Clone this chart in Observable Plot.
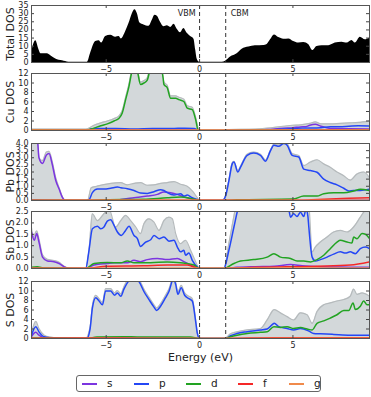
<!DOCTYPE html>
<html><head><meta charset="utf-8">
<script src="https://cdn.jsdelivr.net/npm/d3@7"></script>
<script src="https://cdn.jsdelivr.net/npm/@observablehq/plot@0.6"></script>
<style>
body{margin:0;background:#fff;}
#c{position:relative;width:371px;height:397px;font-family:"DejaVu Sans",sans-serif;overflow:hidden;}
#c svg{position:absolute;left:0;}
.lg{position:absolute;left:76px;top:375px;width:245px;height:17px;border:1px solid #666;border-radius:3px;box-sizing:border-box;}
.li{position:absolute;top:383px;height:2px;width:15px;}
.lt{position:absolute;top:376px;font-size:10.5px;color:#222;line-height:14px;}
</style></head><body><div id="c"></div>
<script>
// ---- data (energy in eV, DOS) ----
const xTicks = [-5, 0, 5];
const edgeNames = ["VBM", "CBM"];
const edgeEnergies = [0, 1.4];
const orbitals = ["s", "p", "d", "f", "g"];
const orbitalColors = ["#7b35e0", "#2447f5", "#22a322", "#f52828", "#f08a4b"];
const panelLabels = ["Total DOS", "Cu DOS", "Pb DOS", "Sb DOS", "S DOS"];
const totalTicks = [0,5,10,15,20,25,30,35];
const cuTicks = [0,2,4,6,8,10,12];
const pbTicks = [0,0.5,1,1.5,2,2.5,3,3.5,4];
const sbTicks = [0,0.5,1,1.5,2,2.5];
const sTicks = [0,2,4,6,8,10,12];

const totalDos = [[-9,5.8],[-8.77,13.3],[-8.6,7.8],[-8.5,5.4],[-8.15,5.4],[-7.97,4.2],[-7.7,2.2],[-7.34,1.0],[-7.0,0.2],[-6.0,0.2],[-5.83,5.8],[-5.56,12.9],[-5.38,13.3],[-5.24,11.9],[-5.03,15.9],[-4.76,16.7],[-4.49,15.5],[-4.31,15.9],[-4.19,14.5],[-3.96,18.9],[-3.78,23.9],[-3.6,30],[-3.46,32.4],[-3.33,30],[-3.19,24.3],[-2.98,23.1],[-2.71,22.3],[-2.53,26],[-2.39,29],[-2.26,28.4],[-2.09,24.7],[-1.91,21.9],[-1.73,22.5],[-1.55,21.5],[-1.37,23.5],[-1.19,20.3],[-1.02,18.3],[-0.84,20.9],[-0.66,17.9],[-0.48,15.9],[-0.3,14.3],[-0.21,7.8],[-0.12,1.8],[0,0.1],[1.21,0.1],[1.39,0.8],[1.66,3.4],[2.01,5.4],[2.28,8.2],[2.64,9.5],[2.99,10.3],[3.44,10.5],[3.62,11.1],[3.8,13.9],[4.01,16.9],[4.24,15.3],[4.51,14.3],[4.78,14.5],[5.04,12.9],[5.31,11.9],[5.58,12.3],[5.85,10.9],[6.06,7.4],[6.29,9.9],[6.56,10.3],[6.92,10.3],[7.27,11.9],[7.63,12.5],[7.9,11.9],[8.16,13.5],[8.34,11.9],[8.61,15.5],[8.88,13.9],[9.1,14.9]];

const cuTotal = [[-9,0.3],[-6.1,0.3],[-5.92,0.5],[-5.65,1.1],[-5.29,1.6],[-4.94,2.0],[-4.58,2.5],[-4.31,3.1],[-4.14,4.2],[-3.96,7.0],[-3.78,9.8],[-3.6,13.5],[-3.45,15],[-3.33,13],[-3.16,10.2],[-2.98,10.5],[-2.8,11.1],[-2.67,13],[-2.4,15],[-2.1,14.5],[-1.91,10.2],[-1.73,9.5],[-1.55,7.3],[-1.28,7.3],[-1.1,7.0],[-0.84,6.6],[-0.66,5.2],[-0.39,4.9],[-0.21,2.8],[-0.05,0.3],[0,0],[1.3,0],[1.4,0.2],[3.0,0.3],[3.62,0.5],[4.5,0.9],[5.0,1.1],[5.4,1.2],[5.9,1.5],[6.2,1.8],[6.5,1.4],[7.0,1.4],[7.5,1.5],[8.0,1.6],[8.5,1.7],[9.1,2.0]];
const cuS = [[-9,0.1],[-6,0.05],[-5.8,0.3],[-5.6,0.4],[-5.3,0.2],[-4,0.1],[-0.2,0.1],[0,0],[1.3,0],[3.0,0.05],[3.62,0.2],[4.5,0.5],[5.0,0.6],[5.4,0.75],[5.7,0.8],[5.9,1.1],[6.2,1.3],[6.5,0.9],[6.8,0.6],[7.2,0.4],[8,0.35],[9.1,0.3]];
const cuP = [[-9,0.05],[-6,0.05],[-5.8,0.3],[-5.5,0.4],[-4.5,0.4],[-3.5,0.3],[-2.5,0.4],[-1.5,0.4],[-0.8,0.5],[-0.3,0.4],[0,0],[1.3,0],[3.5,0.1],[4.5,0.3],[5.5,0.5],[6.5,0.6],[7.0,0.8],[7.5,0.8],[8.0,0.9],[8.5,1.0],[9.1,0.95]];
const cuD = [[-9,0.15],[-6.1,0.1],[-5.92,0.2],[-5.65,0.5],[-5.29,1.0],[-4.94,1.4],[-4.58,2.0],[-4.31,2.6],[-4.14,3.7],[-3.96,6.5],[-3.78,9.3],[-3.6,12.8],[-3.45,14],[-3.33,12.5],[-3.16,9.7],[-2.98,10],[-2.8,10.6],[-2.67,12.5],[-2.4,14],[-2.1,13.5],[-1.95,11],[-1.91,9.7],[-1.73,9.0],[-1.55,6.8],[-1.28,6.8],[-1.1,6.5],[-0.84,6.1],[-0.66,4.7],[-0.39,4.4],[-0.21,2.3],[-0.07,0],[1.3,0],[3,0.1],[9.1,0.15]];
const cuF = [[-9,0.05],[-4,0.08],[0,0.02],[1.3,0.02],[5,0.08],[9.1,0.1]];
const cuG = [[-9,0.1],[9.1,0.1]];

const pbTotal = [[-9,5],[-8.7,4.6],[-8.6,3.0],[-8.41,2.8],[-8.2,3.4],[-8.06,3.45],[-7.9,2.8],[-7.7,1.6],[-7.52,0.9],[-7.34,0.25],[-7.2,0],[-6.0,0],[-5.8,0.9],[-5.5,1.0],[-4.76,1.2],[-4.22,1.26],[-3.87,1.1],[-3.51,1.2],[-3.16,1.26],[-2.8,1.07],[-2.44,1.1],[-2.09,1.2],[-1.73,1.26],[-1.37,1.33],[-1.02,1.14],[-0.66,1.0],[-0.39,0.67],[-0.12,0.2],[0,0],[1.25,0],[1.39,0.35],[1.57,1.45],[1.75,2.65],[1.84,2.75],[2.05,2.1],[2.19,2.4],[2.55,3.25],[2.9,3.4],[3.26,3.25],[3.53,2.85],[3.8,3.55],[3.98,3.95],[4.24,3.9],[4.51,4.1],[4.69,4.0],[4.96,3.3],[5.31,3.15],[5.58,2.45],[5.94,2.7],[6.29,2.86],[6.65,2.57],[7.0,2.33],[7.36,2.0],[7.72,1.74],[8.07,1.43],[8.43,1.86],[8.79,2.0],[9.1,1.6]];
const pbS = [[-9,5],[-8.68,4.2],[-8.6,3.0],[-8.41,2.6],[-8.2,3.2],[-8.06,3.3],[-7.9,2.6],[-7.7,1.4],[-7.52,0.8],[-7.34,0.2],[-7.2,0],[-4.5,0],[-4.22,0.07],[-3.51,0.19],[-2.8,0.31],[-2.26,0.43],[-1.91,0.6],[-1.55,0.55],[-1.19,0.43],[-0.93,0.3],[-0.66,0.19],[-0.3,0.07],[0,0],[9.1,0.02]];
const pbP = [[-9,0.05],[-6.1,0],[-5.92,0.05],[-5.74,0.55],[-5.47,0.8],[-5.12,0.8],[-4.76,0.86],[-4.4,0.95],[-4.22,0.9],[-3.87,0.83],[-3.51,0.7],[-3.16,0.52],[-2.8,0.5],[-2.44,0.62],[-2.09,0.76],[-1.91,0.7],[-1.73,0.55],[-1.37,0.38],[-1.02,0.48],[-0.84,0.31],[-0.66,0.38],[-0.39,0.19],[-0.12,0.07],[0,0],[1.21,0],[1.39,0.3],[1.57,1.38],[1.75,2.57],[1.84,2.7],[2.05,2.0],[2.19,2.33],[2.55,3.17],[2.9,3.33],[3.26,3.17],[3.53,2.76],[3.8,3.5],[3.98,3.88],[4.24,3.8],[4.51,4.0],[4.69,3.88],[4.96,3.17],[5.31,3.05],[5.58,2.2],[5.94,2.1],[6.29,1.98],[6.65,1.5],[7.0,1.26],[7.36,1.1],[7.72,0.86],[7.99,0.67],[8.25,0.7],[8.61,0.7],[9.1,0.79]];
const pbD = [[-9,0.02],[-6,0.02],[-5,0.05],[-3,0.08],[-1.73,0.19],[-1.0,0.24],[-0.5,0.15],[0,0],[1.3,0],[2,0.05],[5,0.1],[5.58,0.31],[6.29,0.31],[6.65,0.48],[7.18,0.55],[7.72,0.55],[8.25,0.67],[8.61,0.79],[9.1,0.7]];
const pbF = [[-9,0.01],[5,0.02],[6,0.05],[7,0.1],[8,0.15],[9.1,0.2]];
const pbG = [[-9,0.01],[9.1,0.02]];

const sbTotal = [[-9,1.8],[-8.9,1.4],[-8.72,1.65],[-8.6,1.3],[-8.41,0.6],[-8.15,0.4],[-7.79,0.35],[-7.52,0.27],[-7.25,0.1],[-7.0,0],[-6.1,0],[-5.92,0.8],[-5.74,2.4],[-5.47,2.1],[-5.12,2.4],[-4.85,2.6],[-4.49,1.82],[-4.22,2.1],[-3.96,2.33],[-3.69,2.1],[-3.42,1.82],[-3.16,1.53],[-2.98,1.96],[-2.71,2.18],[-2.44,2.03],[-2.17,1.67],[-1.91,2.1],[-1.64,2.25],[-1.46,2.18],[-1.28,1.53],[-1.02,1.09],[-0.75,1.24],[-0.48,0.8],[-0.21,0.3],[0,0],[1.3,0],[1.57,1.1],[1.84,2.3],[2.05,3.2],[2.5,4],[3.5,4],[4.5,3.8],[5.5,3.5],[5.85,2.8],[6.03,0.73],[6.2,0.94],[6.47,1.16],[6.83,1.38],[7.18,1.6],[7.54,1.67],[7.9,1.6],[8.25,1.82],[8.61,2.25],[8.88,2.55],[9.1,2.6]];
const sbS = [[-9,1.6],[-8.85,1.24],[-8.72,1.53],[-8.6,1.16],[-8.41,0.5],[-8.15,0.33],[-7.79,0.3],[-7.52,0.22],[-7.25,0.07],[-7.0,0],[-6.1,0],[-5.65,0.15],[-4.94,0.22],[-4.58,0.25],[-3.87,0.25],[-3.51,0.36],[-3.16,0.3],[-2.8,0.39],[-2.26,0.44],[-1.73,0.39],[-1.19,0.44],[-0.84,0.3],[-0.48,0.15],[0,0],[1.3,0],[2,0.05],[3,0.08],[4,0.1],[4.87,0.17],[5.5,0.12],[6.5,0.08],[8,0.06],[9.1,0.05]];
const sbP = [[-9,0.03],[-6.1,0],[-5.92,0.8],[-5.74,1.74],[-5.47,1.85],[-5.29,1.74],[-5.12,1.82],[-4.94,2.08],[-4.76,2.14],[-4.58,1.89],[-4.4,1.6],[-4.19,1.45],[-3.96,1.67],[-3.78,1.85],[-3.51,1.45],[-3.33,1.31],[-3.16,0.97],[-2.89,1.16],[-2.62,1.26],[-2.44,1.45],[-2.17,1.31],[-1.91,1.38],[-1.64,1.2],[-1.37,1.24],[-1.19,0.94],[-1.02,0.73],[-0.84,0.8],[-0.75,0.58],[-0.57,0.68],[-0.39,0.36],[-0.12,0.07],[0,0],[1.3,0],[1.57,0.8],[1.84,1.82],[2.05,2.6],[2.4,3.5],[3.5,3.6],[4.5,3.2],[4.78,2.6],[4.87,2.25],[5.04,2.4],[5.22,2.28],[5.4,2.47],[5.58,2.28],[5.7,2.6],[5.8,2.3],[5.85,1.82],[6.03,0.5],[6.2,0.33],[6.47,0.39],[6.83,0.5],[7.18,0.63],[7.54,0.73],[7.81,0.68],[8.07,0.73],[8.34,0.65],[8.61,0.87],[8.88,0.94],[9.1,0.87]];
const sbD = [[-9,0.05],[-8.7,0.08],[-8.3,0.02],[-6.1,0],[-5.65,0.22],[-4.94,0.26],[-4.22,0.25],[-3.87,0.33],[-3.51,0.25],[-2.62,0.25],[-1.73,0.29],[-1.02,0.25],[-0.3,0.15],[0,0],[1.3,0],[1.84,0.22],[2.19,0.33],[2.9,0.39],[3.62,0.5],[3.98,0.65],[4.33,0.5],[4.87,0.44],[5.22,0.33],[5.58,0.33],[5.94,0.29],[6.29,0.39],[6.65,0.58],[7.0,0.87],[7.36,1.16],[7.54,1.24],[7.9,1.16],[8.16,1.12],[8.25,1.38],[8.43,1.31],[8.7,1.53],[8.88,1.5],[9.1,1.31]];
const sbF = [[-9,0.01],[-6,0.01],[-5,0.1],[-3,0.12],[-1.73,0.15],[-0.66,0.15],[0,0],[1.3,0],[3,0.05],[6.29,0.1],[8.07,0.15],[9.1,0.29]];
const sbG = [[-9,0.01],[9.1,0.02]];

const sTotal = [[-9,1.0],[-8.77,3.6],[-8.6,2.1],[-8.32,0.7],[-8.0,0.3],[-7.5,0.1],[-7,0],[-6.1,0],[-5.86,2.5],[-5.74,6.9],[-5.56,9.1],[-5.38,8.4],[-5.2,7.6],[-5.03,10.5],[-4.76,10.5],[-4.55,9.6],[-4.4,10.1],[-4.22,9.4],[-4.05,10.9],[-3.78,12.8],[-3.5,13.5],[-3.24,12.5],[-3.16,11.9],[-2.98,10.4],[-2.71,8.7],[-2.44,7.1],[-2.3,6.4],[-2.09,7.3],[-1.82,9.1],[-1.64,10.4],[-1.4,13],[-1.28,11.9],[-1.16,9.8],[-0.98,11.2],[-0.8,9.6],[-0.57,8.9],[-0.39,8.4],[-0.21,4.0],[-0.12,1.3],[0,0],[1.35,0],[1.66,1.0],[2.01,1.4],[2.55,1.8],[3.26,2.1],[3.62,3.9],[4.0,6.1],[4.33,5.4],[4.69,4.6],[5.04,3.9],[5.4,5.4],[5.76,5.0],[6.03,3.2],[6.29,5.7],[6.65,7.1],[7.0,7.5],[7.36,7.9],[7.72,8.2],[8.07,8.9],[8.25,10.4],[8.43,9.3],[8.7,9.6],[9.1,8.9]];
const sS = [[-9,0.4],[-8.77,1.3],[-8.6,0.7],[-8.32,0.15],[-8,0.05],[-6,0.02],[-5,0.1],[-3,0.1],[-1,0.1],[0,0],[1.35,0],[3,0.05],[6,0.05],[9.1,0.05]];
const sP = [[-9,0.7],[-8.77,2.5],[-8.6,1.4],[-8.32,0.36],[-8.0,0.15],[-7.5,0.05],[-6.04,0],[-5.86,2.1],[-5.74,6.4],[-5.56,8.6],[-5.38,7.9],[-5.2,7.1],[-5.03,10],[-4.76,10],[-4.55,9.1],[-4.4,9.6],[-4.22,8.9],[-4.05,10.4],[-3.78,12.2],[-3.5,13],[-3.24,12],[-3.16,11.4],[-2.98,9.9],[-2.71,8.2],[-2.44,6.6],[-2.3,5.9],[-2.09,6.8],[-1.82,8.6],[-1.64,9.9],[-1.4,12.5],[-1.28,11.4],[-1.16,9.3],[-0.98,10.7],[-0.8,9.1],[-0.57,8.4],[-0.39,7.9],[-0.21,3.6],[-0.12,1.1],[0,0],[1.39,0],[1.66,0.57],[2.01,1.07],[2.55,1.43],[3.26,1.8],[3.62,2.0],[3.89,2.9],[4.0,3.2],[4.24,2.5],[4.69,2.1],[5.04,1.8],[5.4,2.1],[5.85,1.57],[6.11,1.07],[6.47,1.0],[7.18,0.86],[8.07,0.7],[9.1,0.7]];
const sD = [[-9,0.1],[-6,0.05],[-5.5,0.3],[-4,0.35],[-2,0.3],[-0.5,0.3],[0,0],[1.39,0],[1.66,0.36],[2.01,0.7],[2.55,1.07],[3.26,1.3],[3.62,1.43],[3.98,2.5],[4.33,2.3],[4.69,2.5],[5.04,2.1],[5.4,2.3],[5.76,2.0],[6.03,1.8],[6.29,3.2],[6.65,3.7],[7.0,4.3],[7.36,5.0],[7.72,5.9],[7.99,5.9],[8.22,7.5],[8.34,6.1],[8.61,6.8],[8.79,7.9],[8.97,7.1],[9.1,7.1]];
const sF = [[-9,0.05],[-5,0.1],[0,0.02],[1.4,0.02],[4,0.15],[9.1,0.15]];
const sG = [[-9,0.02],[9.1,0.03]];

// ---- layout ----
const W = 371, ML = 31, MR = 2, MT = 4, MB = 11, IH = 57;
const IW = W - ML - MR;
const tops = [1, 69, 139, 207, 277];
const edges = edgeNames.map((n, i) => ({name: n, e: edgeEnergies[i]}));
const fmtX = d => d < 0 ? "\u2212" + Math.abs(d) : String(d);
const fmtInt = d => String(d);
const fmt1 = d => d.toFixed(1);
const X = d => d[0], Y = d => d[1];
const container = document.getElementById("c");

function panel(i, domain, ticks, fmt, total, parts) {
  const last = i === 4;
  const marks = [];
  if (!parts) {
    marks.push(Plot.areaY(total, {x: X, y: Y, fill: "#000", curve: "monotone-x", clip: true}));
  } else {
    marks.push(Plot.areaY(total, {x: X, y: Y, fill: "#d3d8da", curve: "monotone-x", clip: true}));
    marks.push(Plot.line(total, {x: X, y: Y, stroke: "#b5babc", strokeWidth: 1.2, curve: "monotone-x", clip: true}));
    parts.forEach((s, k) => marks.push(Plot.line(s, {x: X, y: Y, stroke: orbitalColors[k], strokeWidth: 1.5, curve: "monotone-x", clip: true})));
  }
  marks.push(Plot.ruleX(edges, {x: "e", stroke: "#333", strokeWidth: 1, strokeDasharray: "4,3"}));
  // inward ticks
  marks.push(Plot.tickX(xTicks, {x: d => d, insetTop: IH - 3, stroke: "#444"}));
  marks.push(Plot.tickX(xTicks, {x: d => d, insetBottom: IH - 3, stroke: "#444"}));
  marks.push(Plot.tickY(ticks, {y: d => d, insetRight: IW - 3, stroke: "#444"}));
  marks.push(Plot.tickY(ticks, {y: d => d, insetLeft: IW - 3, stroke: "#444"}));
  marks.push(Plot.frame({stroke: "#555"}));
  marks.push(Plot.text([panelLabels[i]], {text: d => d, frameAnchor: "left", textAnchor: "middle", lineAnchor: "middle", rotate: -90, dx: -21, fontSize: 11, fill: "#222"}));
  if (i === 0) {
    marks.push(Plot.text(edges.slice(0, 1), {x: "e", text: "name", frameAnchor: "top", textAnchor: "end", lineAnchor: "top", dx: -4, dy: 5, fontSize: 8, fill: "#222"}));
    marks.push(Plot.text(edges.slice(1, 2), {x: "e", text: "name", frameAnchor: "top", textAnchor: "start", lineAnchor: "top", dx: 5, dy: 5, fontSize: 8, fill: "#222"}));
  }
  if (last) {
    marks.push(Plot.text(["Energy (eV)"], {text: d => d, frameAnchor: "bottom", textAnchor: "middle", lineAnchor: "top", dy: 15, fontSize: 11, fill: "#222"}));
  }
  const svg = Plot.plot({
    width: W, height: MT + IH + MB,
    marginLeft: ML, marginRight: MR, marginTop: MT, marginBottom: MB,
    style: {background: "transparent", overflow: "visible", fontFamily: "DejaVu Sans, sans-serif", fontSize: "8px", color: "#222"},
    x: {domain: [-9, 9.1], ticks: xTicks, tickSize: 0, tickPadding: 4, tickFormat: fmtX, label: null},
    y: {domain, ticks, tickSize: 0, tickPadding: 3, tickFormat: fmt, label: null},
    marks
  });
  svg.style.top = tops[i] + "px";
  container.appendChild(svg);
}

panel(0, [0, 35], totalTicks, fmtInt, totalDos, null);
panel(1, [0, 12], cuTicks, fmtInt, cuTotal, [cuS, cuP, cuD, cuF, cuG]);
panel(2, [0, 4], pbTicks, fmt1, pbTotal, [pbS, pbP, pbD, pbF, pbG]);
panel(3, [0, 2.5], sbTicks, fmt1, sbTotal, [sbS, sbP, sbD, sbF, sbG]);
panel(4, [0, 12], sTicks, fmtInt, sTotal, [sS, sP, sD, sF, sG]);

// legend (HTML)
const lg = document.createElement("div");
lg.className = "lg";
container.appendChild(lg);
const legendLineX = [82, 134, 186, 238, 289];
orbitals.forEach((o, k) => {
  const l = document.createElement("div");
  l.className = "li";
  l.style.left = legendLineX[k] + "px";
  l.style.background = orbitalColors[k];
  container.appendChild(l);
  const t = document.createElement("div");
  t.className = "lt";
  t.style.left = (legendLineX[k] + 25) + "px";
  t.textContent = o;
  container.appendChild(t);
});
</script>
</body></html>
